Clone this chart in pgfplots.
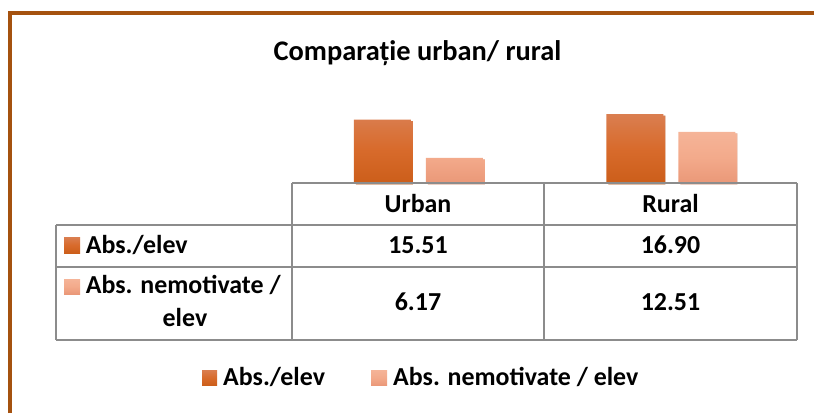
\documentclass[border=0pt]{standalone}
\usepackage{pgfplots}
\pgfplotsset{compat=1.18}
\usepackage{fontspec}
\setmainfont{Carlito}
\definecolor{darkbar}{HTML}{D86B2C}
\definecolor{darktop}{HTML}{DA7E50}
\definecolor{darkbot}{HTML}{CC5E1A}
\definecolor{lightbar}{HTML}{F3AA8B}
\definecolor{lighttop}{HTML}{F5B498}
\definecolor{lightbot}{HTML}{EA9878}
\definecolor{framec}{HTML}{A5520F}
\definecolor{gridc}{HTML}{8C8C8C}
\pgfplotstableread{
x  abs   nemot
0  15.51 6.17
1  16.90 12.51
}\datatable
\begin{document}
\begin{tikzpicture}
\begin{scope}[x=1bp,y=1bp]
\path[use as bounding box] (0,0) rectangle (814,413);
% frame
\draw[framec, line width=4bp] (9.5,0) -- (9.5,399.5) -- (814,399.5);
% title
\node[anchor=base, inner sep=0, font=\fontsize{28.5}{34}\selectfont\bfseries] at (417.5,353) {Comparație urban/ rural};
\end{scope}
\begin{axis}[
  at={(292bp,230bp)}, anchor=south west, scale only axis,
  width=505bp, height=81.6bp,
  xmin=-0.5, xmax=1.5, ymin=0, ymax=20,
  hide axis, clip=false,
  ybar=15bp, bar width=57bp,
]
\addplot[draw=none, preaction={fill=black!18, transform canvas={shift={(2bp,-1.5bp)}}}, top color=darktop, bottom color=darkbot, middle color=darkbar] table[x=x, y=abs] {\datatable};
\addplot[draw=none, preaction={fill=black!18, transform canvas={shift={(2bp,-1.5bp)}}}, top color=lighttop, bottom color=lightbot, middle color=lightbar] table[x=x, y=nemot] {\datatable};
\end{axis}
\begin{scope}[x=1bp,y=1bp]
% data table grid
\draw[gridc, line width=1.5bp] (292,230) -- (797,230)
  (56,188) -- (797,188) (56,146) -- (797,146) (56,73) -- (797,73)
  (56,188) -- (56,73) (292,230) -- (292,73) (544,230) -- (544,73) (797,230) -- (797,73);
\begin{scope}[every node/.style={inner sep=0, font=\fontsize{26}{31}\selectfont\bfseries}]
\node[anchor=base] at (418,201) {Urban};
\node[anchor=base] at (670.5,201) {Rural};
\node[anchor=base] at (418,159.7) {15.51};
\node[anchor=base] at (670.5,159.7) {16.90};
\node[anchor=base] at (418,103) {6.17};
\node[anchor=base] at (670.5,103) {12.51};
\shade[top color=darktop, bottom color=darkbot, middle color=darkbar] (64,160) rectangle (80,176);
\node[anchor=base west] at (85.7,159.7) {Abs./elev};
\shade[top color=lighttop, bottom color=lightbot, middle color=lightbar] (64,119) rectangle (80,134);
\node[anchor=base west] at (85.7,119.7) {Abs. nemotivate /};
\node[anchor=base] at (185,86.3) {elev};
% legend
\shade[top color=darktop, bottom color=darkbot, middle color=darkbar] (202,27.5) rectangle (217,43);
\node[anchor=base west] at (223,28) {Abs./elev};
\shade[top color=lighttop, bottom color=lightbot, middle color=lightbar] (371,27.5) rectangle (387,43);
\node[anchor=base west] at (393,28) {Abs. nemotivate / elev};
\end{scope}
\end{scope}
\end{tikzpicture}
\end{document}
